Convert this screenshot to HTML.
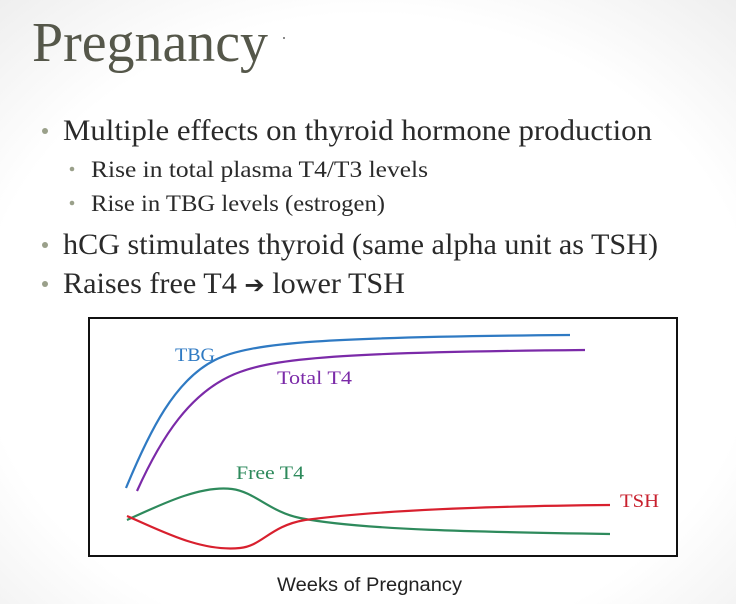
<!DOCTYPE html>
<html><head><meta charset="utf-8"><style>
html,body{margin:0;padding:0;background:#fff;}
svg{display:block;}
</style></head><body>
<svg width="736" height="604" viewBox="0 0 736 604" xmlns="http://www.w3.org/2000/svg" font-family="Liberation Serif, serif">
<defs><radialGradient id="bg" cx="0.5" cy="0.55" r="0.75"><stop offset="0.7" stop-color="#ffffff"/><stop offset="1" stop-color="#eeeeee"/></radialGradient></defs>
<rect width="736" height="604" fill="url(#bg)"/>
<text x="32" y="61" font-size="56" fill="#55574a" textLength="236" lengthAdjust="spacingAndGlyphs">Pregnancy</text>
<circle cx="284" cy="38" r="1" fill="#666"/>
<g fill="#9aa08a">
<circle cx="45" cy="131" r="3"/><circle cx="72" cy="169" r="2.3"/><circle cx="72" cy="203" r="2.3"/>
<circle cx="45" cy="245" r="3"/><circle cx="45" cy="284" r="3"/>
</g>
<g fill="#2a2a2a">
<text x="63" y="140" font-size="30" textLength="589" lengthAdjust="spacingAndGlyphs">Multiple effects on thyroid hormone production</text>
<text x="91" y="177" font-size="23" textLength="337" lengthAdjust="spacingAndGlyphs">Rise in total plasma T4/T3 levels</text>
<text x="91" y="211" font-size="23" textLength="294" lengthAdjust="spacingAndGlyphs">Rise in TBG levels (estrogen)</text>
<text x="63" y="254" font-size="30" textLength="595" lengthAdjust="spacingAndGlyphs">hCG stimulates thyroid (same alpha unit as TSH)</text>
<text x="63" y="293" font-size="30" textLength="342" lengthAdjust="spacingAndGlyphs">Raises free T4 <tspan font-family="DejaVu Sans, sans-serif" font-weight="bold" font-size="24">➔</tspan> lower TSH</text>
</g>
<rect x="89" y="318" width="588" height="238" fill="#fff" stroke="#111" stroke-width="2"/>
<g fill="none" stroke-width="2.2">
<path d="M126 488 C150 430, 175 380, 215 360 C250 342, 330 337, 570 335" stroke="#2f7ac3"/>
<path d="M137 491 C160 440, 190 390, 240 372 C280 357, 360 352, 585 350" stroke="#7b2aa8"/>
<path d="M127 520 C160 505, 200 485, 232 489 C255 492, 270 512, 300 518 C360 530, 480 532, 610 534" stroke="#2e8a5c"/>
<path d="M127 516 C160 530, 200 552, 240 548 C262 546, 270 526, 305 520 C380 510, 500 506, 610 505" stroke="#d8202e"/>
</g>
<g font-size="19">
<text x="175" y="361" fill="#2f7ac3" textLength="40" lengthAdjust="spacingAndGlyphs">TBG</text>
<text x="277" y="384" fill="#7b2aa8" textLength="75" lengthAdjust="spacingAndGlyphs">Total T4</text>
<text x="236" y="479" fill="#2e8a5c" textLength="68" lengthAdjust="spacingAndGlyphs">Free T4</text>
<text x="620" y="507" fill="#c8202e" textLength="39" lengthAdjust="spacingAndGlyphs">TSH</text>
</g>
<text x="277" y="591" font-size="19" fill="#222" textLength="185" lengthAdjust="spacingAndGlyphs" font-family="Liberation Sans, sans-serif">Weeks of Pregnancy</text>
</svg>
</body></html>
